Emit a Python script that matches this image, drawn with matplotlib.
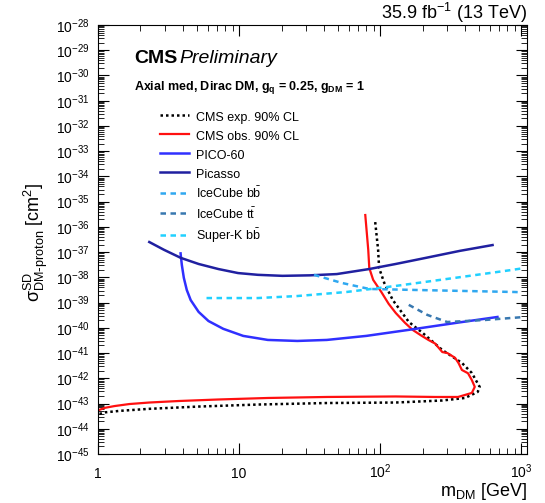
import numpy as np
from matplotlib import pyplot as plt
from matplotlib.ticker import LogLocator, FixedLocator, FixedFormatter, NullFormatter

plt.rcParams['font.family'] = ['Liberation Sans', 'DejaVu Sans']
plt.rcParams['mathtext.default'] = 'regular'

# CMS observed limit (upper branch from top, nose, then lower branch back to 1 GeV)
obs_m = [78.5, 82.4, 83.8, 89.3, 102, 115, 129, 150, 170, 195, 220, 245, 276, 300, 340,
         360, 380, 420, 447, 469, 447, 357, 247, 129, 41.9, 16.0, 7.13, 3.74, 2.31, 1.67,
         1.31, 1.12, 1.0]
obs_xs = [-35.53, -36.91, -37.63, -38.10, -38.58, -39.05, -39.41, -39.80, -40.08, -40.30,
          -40.48, -40.62, -40.96, -41.00, -41.19, -41.40, -41.67, -41.80, -42.07, -42.34,
          -42.58, -42.74, -42.74, -42.72, -42.74, -42.78, -42.84, -42.90, -42.96, -43.02,
          -43.10, -43.17, -43.27]

# CMS expected limit
exp_m = [92.3, 96.8, 98.4, 107, 123, 160, 200, 276, 380, 447, 508, 492, 399, 276,
         129, 41.9, 13.6, 5.17, 2.31, 1.43, 1.12, 1.0]
exp_xs = [-35.81, -36.91, -37.63, -38.22, -38.90, -39.77, -40.20, -40.88, -41.39, -41.79,
          -42.34, -42.54, -42.78, -42.88, -42.96, -42.98, -43.04, -43.12, -43.21, -43.29,
          -43.35, -43.43]

pico_m = [3.85, 3.93, 4.06, 4.26, 4.54, 5.17, 6.07, 7.73, 10.7, 16.0, 25.9, 41.9, 79.8,
          160, 340, 679]
pico_xs = [-37.05, -37.51, -38.02, -38.50, -38.90, -39.37, -39.73, -40.04, -40.32, -40.48,
           -40.52, -40.48, -40.32, -40.08, -39.81, -39.57]

picasso_m = [2.31, 2.94, 3.87, 5.17, 7.13, 9.84, 13.6, 20.3, 31.9, 49.3, 83.8, 129, 210,
             368, 627]
picasso_xs = [-36.60, -36.91, -37.23, -37.47, -37.67, -37.83, -37.90, -37.94, -37.92,
              -37.87, -37.67, -37.47, -37.23, -36.95, -36.72]

icbb_m = [34, 53.4, 83.8, 178.6, 399, 893, 1000]
icbb_xs = [-37.90, -38.22, -38.46, -38.50, -38.54, -38.58, -38.59]

ictt_m = [159.6, 216.6, 299, 551, 1000]
ictt_xs = [-39.09, -39.49, -39.77, -39.69, -39.58]

superk_m = [5.88, 13.6, 25.9, 57.8, 129, 340, 851, 1000]
superk_xs = [-38.82, -38.82, -38.74, -38.58, -38.34, -38.02, -37.71, -37.65]

x_ticks = [1, 10, 100, 1000]
x_labels = ['1', '10', '$10^{2}$', '$10^{3}$']

fig = plt.figure(figsize=(5.45, 5.03), dpi=100)
ax = fig.add_axes([98 / 545, 49 / 503, 429 / 545, 429 / 503])

dash = (0, (2.2, 1.8))
ax.plot(exp_m, 10.0 ** np.array(exp_xs), color='black', ls=(0, (1, 1.2)), lw=1.8,
        label='CMS exp. 90% CL')
ax.plot(obs_m, 10.0 ** np.array(obs_xs), color='#ff1010', lw=1.6, label='CMS obs. 90% CL')
ax.plot(pico_m, 10.0 ** np.array(pico_xs), color='#3030ff', lw=1.8, label='PICO-60')
ax.plot(picasso_m, 10.0 ** np.array(picasso_xs), color='#2020a0', lw=1.8, label='Picasso')
ax.plot(icbb_m, 10.0 ** np.array(icbb_xs), color='#30a8f0', ls=dash, lw=1.8,
        label=r'IceCube b$\bar{b}$')
ax.plot(ictt_m, 10.0 ** np.array(ictt_xs), color='#3878b0', ls=dash, lw=1.8,
        label=r'IceCube t$\bar{t}$')
ax.plot(superk_m, 10.0 ** np.array(superk_xs), color='#20d0ff', ls=dash, lw=1.8,
        label=r'Super-K b$\bar{b}$')

ax.set_xscale('log')
ax.set_yscale('log')
ax.set_xlim(1, 1100)
ax.set_ylim(1e-45, 1e-28)

ax.xaxis.set_major_locator(FixedLocator(x_ticks))
ax.xaxis.set_major_formatter(FixedFormatter(x_labels))
ax.xaxis.set_minor_locator(LogLocator(subs=np.arange(2, 10), numticks=20))
ax.xaxis.set_minor_formatter(NullFormatter())
ax.yaxis.set_major_locator(LogLocator(numticks=30))
ax.yaxis.set_minor_locator(LogLocator(subs=np.arange(2, 10), numticks=200))
ax.yaxis.set_minor_formatter(NullFormatter())
ax.tick_params(which='both', direction='in', top=True, right=True, labelsize=10)
ax.tick_params(which='major', length=8, width=0.8)
ax.tick_params(which='minor', length=4, width=0.6)
ax.tick_params(axis='x', pad=17)
ax.tick_params(axis='y', pad=6)
plt.setp(ax.get_xticklabels(), va='baseline')

fig.text(527 / 545, 1 - 492 / 503, r'm$_{DM}$ [GeV]', ha='right', va='center', fontsize=13)
fig.text(36 / 545, 1 - 242 / 503, r'$\sigma^{SD}_{DM\text{-}proton}$ [cm$^{2}$]',
         rotation=90, ha='center', va='center', fontsize=13)
fig.text(527 / 545, 1 - 13 / 503, r'35.9 fb$^{-1}$ (13 TeV)', ha='right', va='center',
         fontsize=13)

ax.text(0.085, 0.922, 'CMS', transform=ax.transAxes, fontsize=14, fontweight='bold',
        va='center')
ax.text(0.19, 0.922, 'Preliminary', transform=ax.transAxes, fontsize=14, style='italic',
        va='center')
ax.text(0.085, 0.855, r'Axial med, Dirac DM, g$_{q}$ = 0.25, g$_{DM}$ = 1',
        transform=ax.transAxes, fontsize=9, fontweight='bold', va='center')

ax.legend(loc='upper left', bbox_to_anchor=(0.13, 0.818), frameon=False, fontsize=9,
          handlelength=2.3, handleheight=1.35, handletextpad=0.6, labelspacing=0.4,
          borderpad=0)

fig.savefig('out.png', dpi=100)
